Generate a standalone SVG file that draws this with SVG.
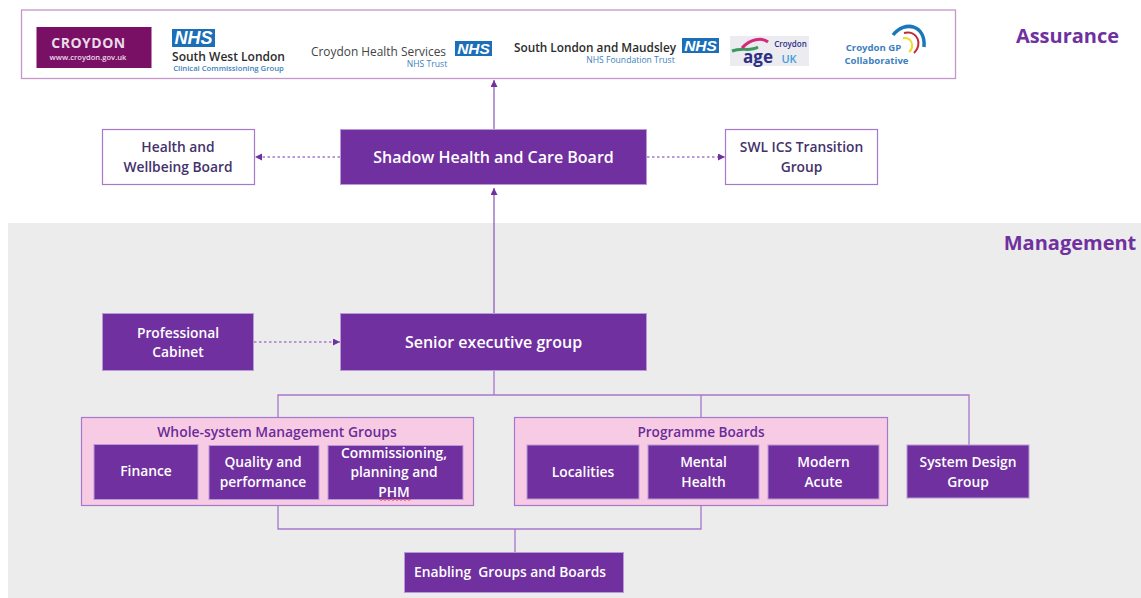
<svg xmlns="http://www.w3.org/2000/svg" width="1141" height="598" viewBox="0 0 1141 598">
<style>
text{font-family:"Open Sans","Liberation Sans",sans-serif;text-anchor:middle}
.b{fill:#7030a0;stroke:#b99ad6;stroke-width:1}
.w{fill:#fff;stroke:#a678cc;stroke-width:1.2}
.p{fill:#f7cbe3;stroke:#a678cc;stroke-width:1.2}
.t{fill:#fff;font-size:13.8px;font-weight:600}
.d{fill:#44326b;font-size:13.8px;font-weight:600}
.h{fill:#7030a0;font-size:20px;font-weight:700}
.g{fill:#6a2c9a;font-size:13.6px;font-weight:600}
.l{fill:none;stroke:#a678cc;stroke-width:1.3}
.a{fill:none;stroke:#7f45ab;stroke-width:1.1;marker-end:url(#m)}
.da{stroke-dasharray:2.5 2.5;stroke:#a678cc;stroke-width:1.3}
.nhs{fill:#1a6fb8}
.nt{fill:#fff;font-weight:700;font-style:italic;font-family:"Liberation Sans",sans-serif}
.lt{fill:#2b2b2b;font-weight:600}
.bl{fill:#3d7fc0}
</style>
<defs><marker id="m" markerWidth="8" markerHeight="8" refX="7" refY="3.5" orient="auto" markerUnits="userSpaceOnUse"><path d="M0 0L7 3.5L0 7Z" fill="#7030a0"/></marker></defs>
<rect x="8" y="223" width="1133" height="375" fill="#ececec"/>
<g id="assurance-panel">
<rect x="21.500" y="10" width="934" height="68.500" fill="#fff" stroke="#c596c8" stroke-width="1.300"/>
<g id="logo-croydon"><rect x="36.500" y="27" width="115" height="41" fill="#7a0f66"/>
<text x="88.500" y="47.500" fill="#e8dce8" font-size="14" font-weight="700" letter-spacing=".5">CROYDON</text>
<text x="88" y="59.500" fill="#e8dce8" font-size="7.600" font-weight="600">www.croydon.gov.uk</text></g>
<g id="logo-swl"><rect x="172" y="29" width="43" height="18" class="nhs"/><text x="193.500" y="44" class="nt" font-size="18">NHS</text>
<text x="228.500" y="60.500" class="lt" font-size="12">South West London</text>
<text x="228.500" y="71" class="bl" font-size="7.700" font-weight="600">Clinical Commissioning Group</text></g>
<g id="logo-chs"><text x="378.500" y="56" fill="#444" font-size="11.900" font-weight="500">Croydon Health Services</text>
<text x="427" y="67" class="bl" font-size="8.600" font-weight="400">NHS Trust</text>
<rect x="455" y="41" width="37" height="15" class="nhs"/><text x="473.500" y="53.500" class="nt" font-size="15.500">NHS</text></g>
<g id="logo-slam"><text x="595" y="51.500" class="lt" font-size="11.800">South London and Maudsley</text>
<text x="630.500" y="63" class="bl" font-size="8.600" font-weight="400">NHS Foundation Trust</text>
<rect x="682" y="38" width="37" height="15" class="nhs"/><text x="700.500" y="50.500" class="nt" font-size="15.500">NHS</text></g>
<g id="logo-age"><rect x="730" y="36" width="79" height="30" fill="#ebebf0"/>
<path d="M732 51C742 47 750 52 758 47" fill="none" stroke="#3c9a5f" stroke-width="3"/>
<path d="M742 48C750 39 762 37 768 42" fill="none" stroke="#d42a7c" stroke-width="3"/>
<text x="790.500" y="46.500" fill="#2c2f86" font-size="8" font-weight="600">Croydon</text>
<text x="758" y="63" fill="#2c2f86" font-size="17" font-weight="700">age</text>
<text x="789" y="62.500" fill="#3aa0dc" font-size="11" font-weight="600">UK</text></g>
<g id="logo-gp"><text x="873.500" y="51" class="bl" font-size="9.600" font-weight="700">Croydon GP</text>
<text x="876.500" y="64" class="bl" font-size="9.600" font-weight="700">Collaborative</text>
<path d="M893 35C905 20 926 25 924 47" fill="none" stroke="#1a78b8" stroke-width="3.500"/>
<path d="M904 33C918 30 923 45 914 53" fill="none" stroke="#c02a3a" stroke-width="2"/>
<path d="M903 38C912 37 915 47 909 52" fill="none" stroke="#eedc30" stroke-width="2"/></g>
</g>
<text x="1067.500" y="43" class="h">Assurance</text>
<text x="1070" y="250" class="h">Management</text>
<g id="connectors">
<path class="a" d="M494 129V80"/>
<path class="a da" d="M340 157H255"/>
<path class="a da" d="M647 157H725"/>
<path class="a" d="M494 313V188"/>
<path class="a da" d="M254 342H340"/>
<path class="l" d="M494 371V395M278 417V395H969V445M701 395V417"/>
<path class="l" d="M278 506V529H701V506M515 529V552"/>
</g>
<g id="n-hwb"><rect class="w" x="102.500" y="129.500" width="152" height="55"/><text class="d" x="178" y="152">Health and</text><text class="d" x="178" y="172">Wellbeing Board</text></g>
<g id="n-shadow"><rect class="b" x="340.500" y="129.500" width="306" height="55"/><text class="t" x="493.500" y="163" style="font-size:16px">Shadow Health and Care Board</text></g>
<g id="n-swl"><rect class="w" x="725.500" y="129.500" width="152" height="55"/><text class="d" x="801.500" y="152">SWL ICS Transition</text><text class="d" x="801.500" y="172">Group</text></g>
<g id="n-cabinet"><rect class="b" x="102.500" y="313.500" width="151" height="57"/><text class="t" x="178" y="337.500">Professional</text><text class="t" x="178" y="357">Cabinet</text></g>
<g id="n-seg"><rect class="b" x="340.500" y="313.500" width="306" height="57"/><text class="t" x="493.500" y="348" style="font-size:16px">Senior executive group</text></g>
<g id="n-wsmg"><rect class="p" x="81.500" y="417.500" width="392" height="88"/><text class="g" x="277" y="437" style="font-size:13.900px">Whole-system Management Groups</text></g>
<g id="n-finance"><rect class="b" x="94" y="444.500" width="104" height="55"/><text class="t" x="146" y="476">Finance</text></g>
<g id="n-quality"><rect class="b" x="209" y="445.500" width="110" height="54"/><text class="t" x="263" y="467">Quality and</text><text class="t" x="263" y="487">performance</text></g>
<g id="n-comm"><rect class="b" x="328" y="445.500" width="135" height="54"/><text class="t" x="394" y="458">Commissioning,</text><text class="t" x="394" y="477">planning and</text><text class="t" x="394" y="497">PHM</text><path d="M379 499l2 1.500 2-1.500 2 1.500 2-1.500 2 1.500 2-1.500 2 1.500 2-1.500 2 1.500 2-1.500 2 1.500 2-1.500 2 1.500 2-1.500 2 1.500 2-1.500" fill="none" stroke="#e0445c" stroke-width=".9"/></g>
<g id="n-prog"><rect class="p" x="514.500" y="417.500" width="373" height="88"/><text class="g" x="701" y="437">Programme Boards</text></g>
<g id="n-localities"><rect class="b" x="527" y="445" width="112" height="54"/><text class="t" x="583" y="477">Localities</text></g>
<g id="n-mental"><rect class="b" x="648" y="445" width="111" height="54"/><text class="t" x="703.500" y="467">Mental</text><text class="t" x="703.500" y="487">Health</text></g>
<g id="n-acute"><rect class="b" x="768" y="445" width="111" height="54"/><text class="t" x="823.500" y="467">Modern</text><text class="t" x="823.500" y="487">Acute</text></g>
<g id="n-design"><rect class="b" x="907" y="445" width="122" height="53"/><text class="t" x="968" y="467">System Design</text><text class="t" x="968" y="487">Group</text></g>
<g id="n-enabling"><rect class="b" x="404.500" y="552.500" width="219" height="40"/><text class="t" x="510" y="577" xml:space="preserve">Enabling  Groups and Boards</text></g>
</svg>
